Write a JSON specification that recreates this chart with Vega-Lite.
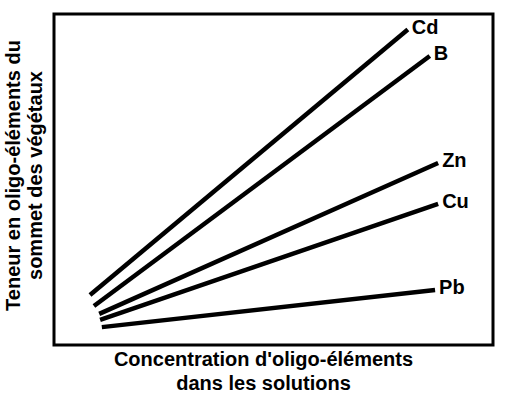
{
  "$schema": "https://vega.github.io/schema/vega-lite/v6.json",
  "width": 439,
  "height": 331,
  "autosize": "none",
  "padding": {"left": 54, "top": 14, "right": 13, "bottom": 49},
  "background": "white",
  "config": {
    "view": {"stroke": "black", "strokeWidth": 3},
    "font": "Liberation Sans"
  },
  "data": {
    "values": [
      {"element": "Cd", "pos": "start", "x": 8.2, "y": 15.1},
      {"element": "Cd", "pos": "end", "x": 80.6, "y": 95.3},
      {"element": "B", "pos": "start", "x": 9.1, "y": 11.8},
      {"element": "B", "pos": "end", "x": 85.6, "y": 87.3},
      {"element": "Zn", "pos": "start", "x": 10.3, "y": 9.4},
      {"element": "Zn", "pos": "end", "x": 87.5, "y": 55.0},
      {"element": "Cu", "pos": "start", "x": 10.5, "y": 7.6},
      {"element": "Cu", "pos": "end", "x": 87.5, "y": 42.6},
      {"element": "Pb", "pos": "start", "x": 10.9, "y": 5.4},
      {"element": "Pb", "pos": "end", "x": 86.8, "y": 16.6}
    ]
  },
  "encoding": {
    "x": {
      "field": "x", "type": "quantitative",
      "scale": {"domain": [0, 100], "nice": false, "zero": false},
      "axis": {
        "title": ["Concentration d'oligo-éléments", "dans les solutions"],
        "domain": false, "ticks": false, "labels": false, "grid": false,
        "titleFont": "Liberation Sans", "titleFontSize": 20, "titleFontWeight": "bold",
        "titleColor": "black", "titleLineHeight": 24,
        "titleX": 209, "titleY": 4, "titleAlign": "center", "titleBaseline": "top"
      }
    },
    "y": {
      "field": "y", "type": "quantitative",
      "scale": {"domain": [0, 100], "nice": false, "zero": false},
      "axis": {
        "title": ["Teneur en oligo-éléments du", "sommet des végétaux"],
        "domain": false, "ticks": false, "labels": false, "grid": false,
        "titleFont": "Liberation Sans", "titleFontSize": 20, "titleFontWeight": "bold",
        "titleColor": "black", "titleLineHeight": 22,
        "titleX": -31, "titleY": 161, "titleAngle": 270, "titleAlign": "center", "titleBaseline": "bottom"
      }
    }
  },
  "layer": [
    {
      "mark": {"type": "line", "color": "black", "strokeWidth": 4.5, "strokeCap": "butt"},
      "encoding": {"detail": {"field": "element"}}
    },
    {
      "transform": [{"filter": "datum.pos === 'end'"}],
      "mark": {"type": "text", "align": "left", "baseline": "middle", "dx": 4, "dy": -2, "fontSize": 20, "fontWeight": "bold", "color": "black", "font": "Liberation Sans"},
      "encoding": {"text": {"field": "element"}}
    }
  ]
}
